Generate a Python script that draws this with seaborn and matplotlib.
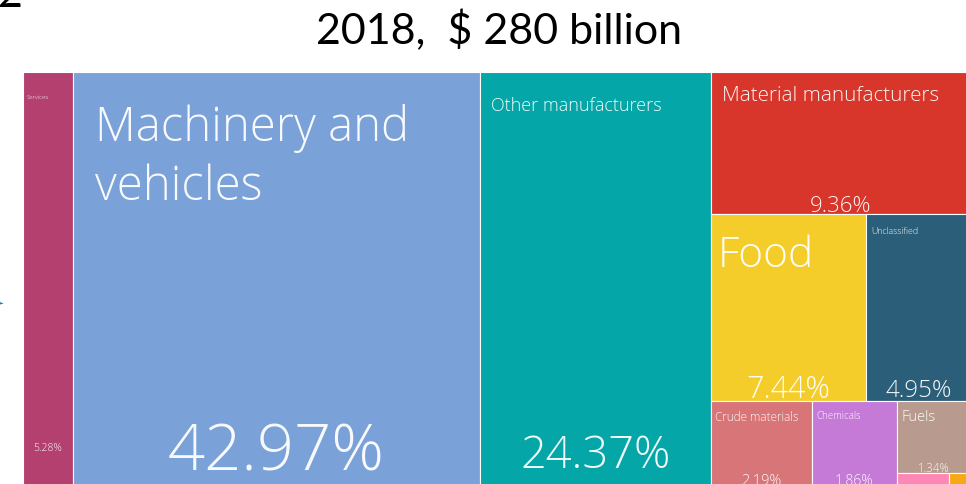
import matplotlib
matplotlib.use("Agg")
import matplotlib.pyplot as plt
from matplotlib.patches import Rectangle
import seaborn as sns

# Export composition, 2018 (share of total, %)
categories = ["Services", "Machinery and vehicles", "Other manufacturers",
              "Material manufacturers", "Food", "Unclassified",
              "Crude materials", "Chemicals", "Fuels",
              "Oils and fats", "Beverages and tobacco"]
shares = [5.28, 42.97, 24.37, 9.36, 7.44, 4.95, 2.19, 1.86, 1.34, 0.17, 0.07]
title_text = "2018,  $ 280 billion"

palette = ["#b3406e", "#7aa2d8", "#04a6a8", "#d9362b", "#f4cd2a", "#2b5e78",
           "#d87578", "#c67ad8", "#b89a8e", "#fd87b5", "#f7a815"]

# nested slice-and-dice arrangement: 'h' splits width, 'v' splits height
layout = ("h", [0, 1, 2,
                ("v", [3,
                       ("h", [4, 5]),
                       ("h", [6, 7, ("v", [8, ("h", [9, 10])])])])])


def node_total(node):
    if isinstance(node, int):
        return shares[node]
    return sum(node_total(n) for n in node[1])


def place(node, x, y, w, h, out):
    if isinstance(node, int):
        out[node] = (x, y, w, h)
        return
    kind, kids = node
    tot = node_total(node)
    pos = 0.0
    for k in kids:
        frac = node_total(k) / tot
        if kind == "h":
            place(k, x + pos * w, y, w * frac, h, out)
        else:
            place(k, x, y + pos * h, w, h * frac, out)
        pos += frac


sns.set_theme(style="white")
plt.rcParams["font.family"] = ["Lato", "DejaVu Sans"]
TILE_FONT = ["Open Sans", "DejaVu Sans"]

fig = plt.figure(figsize=(9.66, 4.85), dpi=100)
W_PX, H_PX = 947.0, 414.0
ax = fig.add_axes([23 / 966, (485 - 487) / 485, W_PX / 966, H_PX / 485])
ax.set_xlim(0, 100)
ax.set_ylim(1, 0)
ax.axis("off")

rects = {}
place(layout, 0.0, 0.0, 100.0, 1.0, rects)

# per tile: name size, pct size, name offset (px), pct baseline above tile bottom (px)
style = {
    "Services": (4.3, 7.5, (4, 22), 36),
    "Machinery and vehicles": (34, 47, (22, 31), 16),
    "Other manufacturers": (13, 32.5, (11, 24), 19),
    "Material manufacturers": (14.8, 16, (11, 13), 3),
    "Food": (30.5, 22, (7, 20), 4),
    "Unclassified": (6.3, 17.4, (5, 12), 5),
    "Crude materials": (8.5, 10.5, (4, 9), 2),
    "Chemicals": (7, 10, (5, 9), 2),
    "Fuels": (10.5, 8.3, (4, 8), 2),
}
dx = 100.0 / W_PX
dy = 1.0 / H_PX
label_names = {"Machinery and vehicles": "Machinery and\nvehicles"}

for i, (x, y, w, h) in rects.items():
    ax.add_patch(Rectangle((x, y), w, h, facecolor=palette[i],
                           edgecolor="white", linewidth=0.8))
    name = categories[i]
    if name not in style:
        continue
    nsz, psz, (ox, oy), pb = style[name]
    ax.text(x + ox * dx, y + oy * dy, label_names.get(name, name),
            color="white", fontsize=nsz, fontweight=300, family=TILE_FONT,
            ha="left", va="top", linespacing=1.3, alpha=0.95)
    ax.text(x + w / 2, y + h - pb * dy, f"{shares[i]:.2f}%",
            color="white", fontsize=psz, fontweight=300, family=TILE_FONT,
            ha="center", va="baseline", alpha=0.95)

fig.text(499 / 966, 1 - 31 / 485, title_text, fontsize=31, color="black",
         ha="center", va="center")
# fragment of the heading line above and the side marker
fig.text(-0.002, 1 - 7 / 485, "2", fontsize=31, color="black",
         ha="left", va="baseline")
fig.text(-0.002, 1 - 302 / 485, "\u25ba", fontsize=10, color="#1f78b4",
         ha="center", va="center", family=["DejaVu Sans"])

fig.savefig("out.png", dpi=100)
